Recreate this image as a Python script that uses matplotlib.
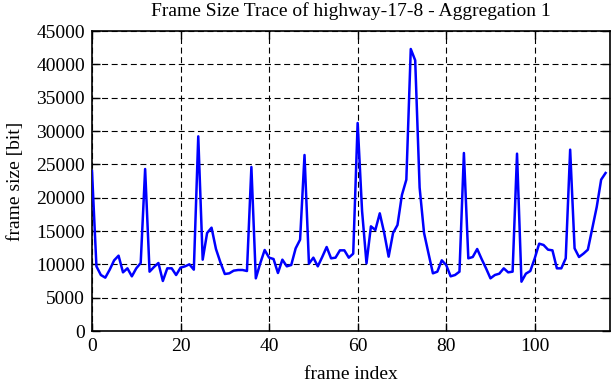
import matplotlib
matplotlib.use("Agg")
import matplotlib.pyplot as plt
import numpy as np

frame_size = [
    24000, 9700, 8400, 8000, 9200, 10600, 11300, 8800, 9400, 8200,
    9400, 10200, 24300, 8900, 9600, 10200, 7500, 9400, 9400, 8400,
    9500, 9700, 10000, 9200, 29200, 10700, 14700, 15500, 12300, 10300,
    8550, 8650, 9050, 9150, 9150, 9000, 24600, 7900, 10150, 12150,
    11000, 10800, 8700, 10700, 9700, 9900, 12400, 13700, 26400, 10100,
    11000, 9700, 11100, 12600, 10900, 11000, 12100, 12100, 11000, 11600,
    31200, 18000, 10150, 15700, 15150, 17650, 14700, 11150, 14700, 15900,
    20400, 22700, 42300, 40600, 21500, 14700, 11650, 8650, 8900, 10600,
    9900, 8200, 8400, 8900, 26700, 10900, 11100, 12300, 10800, 9400,
    7900, 8400, 8600, 9400, 8800, 8900, 26600, 7400, 8600, 9000,
    10900, 13100, 12900, 12200, 12100, 9400, 9400, 10900, 27200, 12400,
    11100, 11600, 12200, 15400, 18600, 22700, 23700,
]
frame_index = list(range(len(frame_size)))
x_ticks = [0, 20, 40, 60, 80, 100]
y_ticks = [0, 5000, 10000, 15000, 20000, 25000, 30000, 35000, 40000, 45000]

plt.rcParams['font.family'] = ['Liberation Serif', 'DejaVu Serif']
plt.rcParams['lines.scale_dashes'] = False

fs = 14

fig = plt.figure(figsize=(6.12, 3.82), dpi=100)
ax = fig.add_axes([92/612, 1-331/382, (610-92)/612, (331-31)/382])

ax.plot(frame_index, frame_size, color='#0000ff', linewidth=1.8, zorder=3)

ax.set_xlim(0, 117)
ax.set_ylim(0, 45000)
ax.set_xticks(x_ticks)
ax.set_yticks(y_ticks)
ax.grid(True, color='black', linestyle=(0, (4.3, 2.6)), linewidth=0.8)
ax.tick_params(direction='in', length=5.5, width=1, top=True, right=True,
               labelsize=fs, colors='black', pad=5)
for s in ax.spines.values():
    s.set_linewidth(1.2)
    s.set_color('black')

ax.set_title('Frame Size Trace of highway-17-8 - Aggregation 1', fontsize=fs, pad=10.5)
ax.set_xlabel('frame index', fontsize=fs, labelpad=8)
ax.set_ylabel('frame size [bit]', fontsize=fs, labelpad=9)

fig.savefig('out.png', dpi=100)
